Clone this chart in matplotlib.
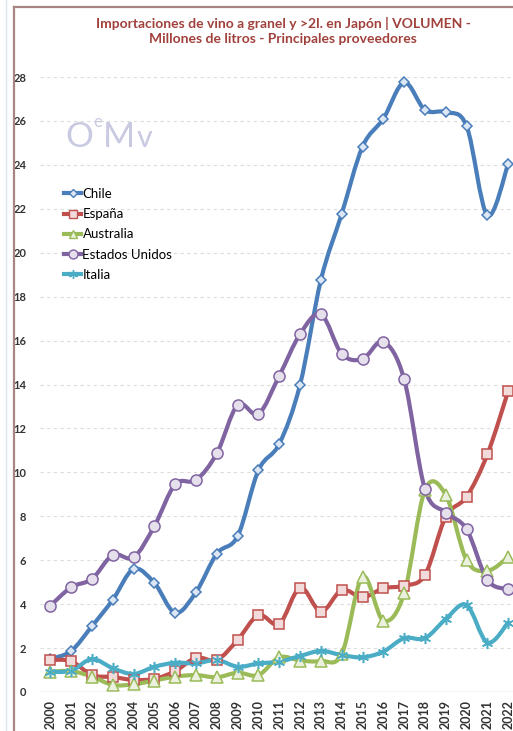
import numpy as np
import matplotlib.pyplot as plt
from matplotlib.path import Path
from matplotlib.patches import PathPatch
from matplotlib.lines import Line2D

plt.rcParams['font.family'] = ['Lato', 'DejaVu Sans']

years = [str(y) for y in range(2000, 2023)]

chile = [1.5, 1.87, 3.0, 4.2, 5.6, 4.96, 3.6, 4.55, 6.3, 7.1, 10.1, 11.3, 14.0, 18.76,
         21.77, 24.83, 26.1, 27.75, 26.5, 26.4, 25.77, 21.7, 24.04]
espana = [1.46, 1.4, 0.77, 0.68, 0.55, 0.6, 0.95, 1.56, 1.46, 2.37, 3.5, 3.1, 4.75, 3.66,
          4.64, 4.31, 4.72, 4.84, 5.33, 7.98, 8.89, 10.82, 13.7]
australia = [0.92, 0.95, 0.7, 0.32, 0.35, 0.52, 0.7, 0.77, 0.67, 0.88, 0.77, 1.58, 1.43, 1.41,
             1.72, 5.25, 3.25, 4.49, 9.2, 8.97, 6.0, 5.52, 6.13]
eeuu = [3.93, 4.77, 5.15, 6.24, 6.13, 7.56, 9.46, 9.65, 10.87, 13.07, 12.66, 14.4, 16.3, 17.2,
        15.4, 15.16, 15.95, 14.24, 9.23, 8.17, 7.41, 5.1, 4.68]
italia = [0.92, 0.97, 1.5, 1.08, 0.82, 1.15, 1.33, 1.3, 1.46, 1.15, 1.3, 1.38, 1.64, 1.87,
          1.68, 1.58, 1.84, 2.45, 2.45, 3.32, 3.96, 2.25, 3.16]

series = [
    ("Chile", chile, '#4A7EBB', '#DCE6F4', 'D', 5.5),
    ("España", espana, '#C0504D', '#F2DCDB', 's', 7.5),
    ("Australia", australia, '#9BBB59', '#EBF1DE', '^', 8),
    ("Estados Unidos", eeuu, '#8064A2', '#E6E0EC', 'o', 8),
    ("Italia", italia, '#4BACC6', '#4BACC6', (6, 2, 0), 8),
]


# Excel-like smoothed line (cubic Bezier through every point)
def smooth_path(xs, ys):
    pts = np.column_stack([xs, ys]).astype(float)
    n = len(pts)
    verts = [pts[0]]
    codes = [Path.MOVETO]
    for i in range(n - 1):
        p0 = pts[i - 1] if i > 0 else pts[i]
        p1 = pts[i]
        p2 = pts[i + 1]
        p3 = pts[i + 2] if i + 2 < n else pts[i + 1]
        verts += [p1 + (p2 - p0) / 6, p2 - (p3 - p1) / 6, p2]
        codes += [Path.CURVE4] * 3
    return Path(verts, codes)


W, H = 513, 731
fig = plt.figure(figsize=(W / 100, H / 100), dpi=100)
ax = fig.add_axes([40 / W, 39 / H, 478.6 / W, 615 / H])

x = np.arange(len(years))
handles = []
for name, vals, col, face, mk, ms in series:
    ax.add_patch(PathPatch(smooth_path(x, vals), facecolor='none', edgecolor=col,
                           lw=3, capstyle='round', joinstyle='round', clip_on=False))
    h, = ax.plot(x, vals, linestyle='none', marker=mk, markersize=ms,
                 markerfacecolor=face, markeredgecolor=col, markeredgewidth=1.1,
                 clip_on=False)
    handles.append(Line2D([], [], color=col, lw=3, marker=mk, markersize=ms * 0.8,
                          markerfacecolor=face, markeredgecolor=col))

ax.set_xlim(-0.5, len(years) - 0.5)
ax.set_ylim(0, 28)
ax.set_yticks(range(0, 29, 2))
ax.set_xticks(x)
ax.set_xticklabels(years, rotation=90, fontsize=9, fontweight='bold', color='#333333')
ax.tick_params(axis='y', length=0, pad=10, labelsize=8, labelcolor='#333333')
ax.tick_params(axis='x', length=0, pad=6)
for lab in ax.get_yticklabels():
    lab.set_fontweight('bold')
for sp in ax.spines.values():
    sp.set_visible(False)
ax.grid(axis='y', color='#DDDDDD', lw=0.8, linestyle=(0, (3, 3)))
ax.axhline(0, color='#CCCCCC', lw=1)
ax.set_axisbelow(True)

ax.legend(handles, [s[0] for s in series], loc='upper left', frameon=False,
          bbox_to_anchor=(64 / W, 1 - 188 / H), bbox_transform=fig.transFigure,
          borderpad=0, borderaxespad=0, handlelength=1.3, handletextpad=0.1,
          labelspacing=0.62, fontsize=9.5)

# logo
logo_col = '#C9C9E2'
fig.text(65 / W, 1 - 147 / H, "O", fontsize=25, color=logo_col)
fig.text(93 / W, 1 - 127 / H, "e", fontsize=12, color=logo_col)
fig.text(103 / W, 1 - 147 / H, "M", fontsize=25, color=logo_col)
fig.text(137 / W, 1 - 147 / H, "v", fontsize=22, color=logo_col)

# title
fig.text(283 / W, 1 - 31 / H,
         "Importaciones de vino a granel y >2l. en Japón | VOLUMEN -\n"
         "Millones de litros - Principales proveedores",
         ha='center', va='center', fontsize=10, fontweight='bold', color='#A0413C',
         linespacing=1.35)

# chart frame edges
fig.add_artist(Line2D([14 / W, 14 / W], [0, 1 - 7 / H], color='#A88583', lw=1.6))
fig.add_artist(Line2D([14 / W, 1], [1 - 7 / H, 1 - 7 / H], color='#A88583', lw=1.6))
fig.add_artist(Line2D([6 / W, 6 / W], [0, 1], color='#DDE3EE', lw=1))

fig.savefig("out.png", dpi=100)
